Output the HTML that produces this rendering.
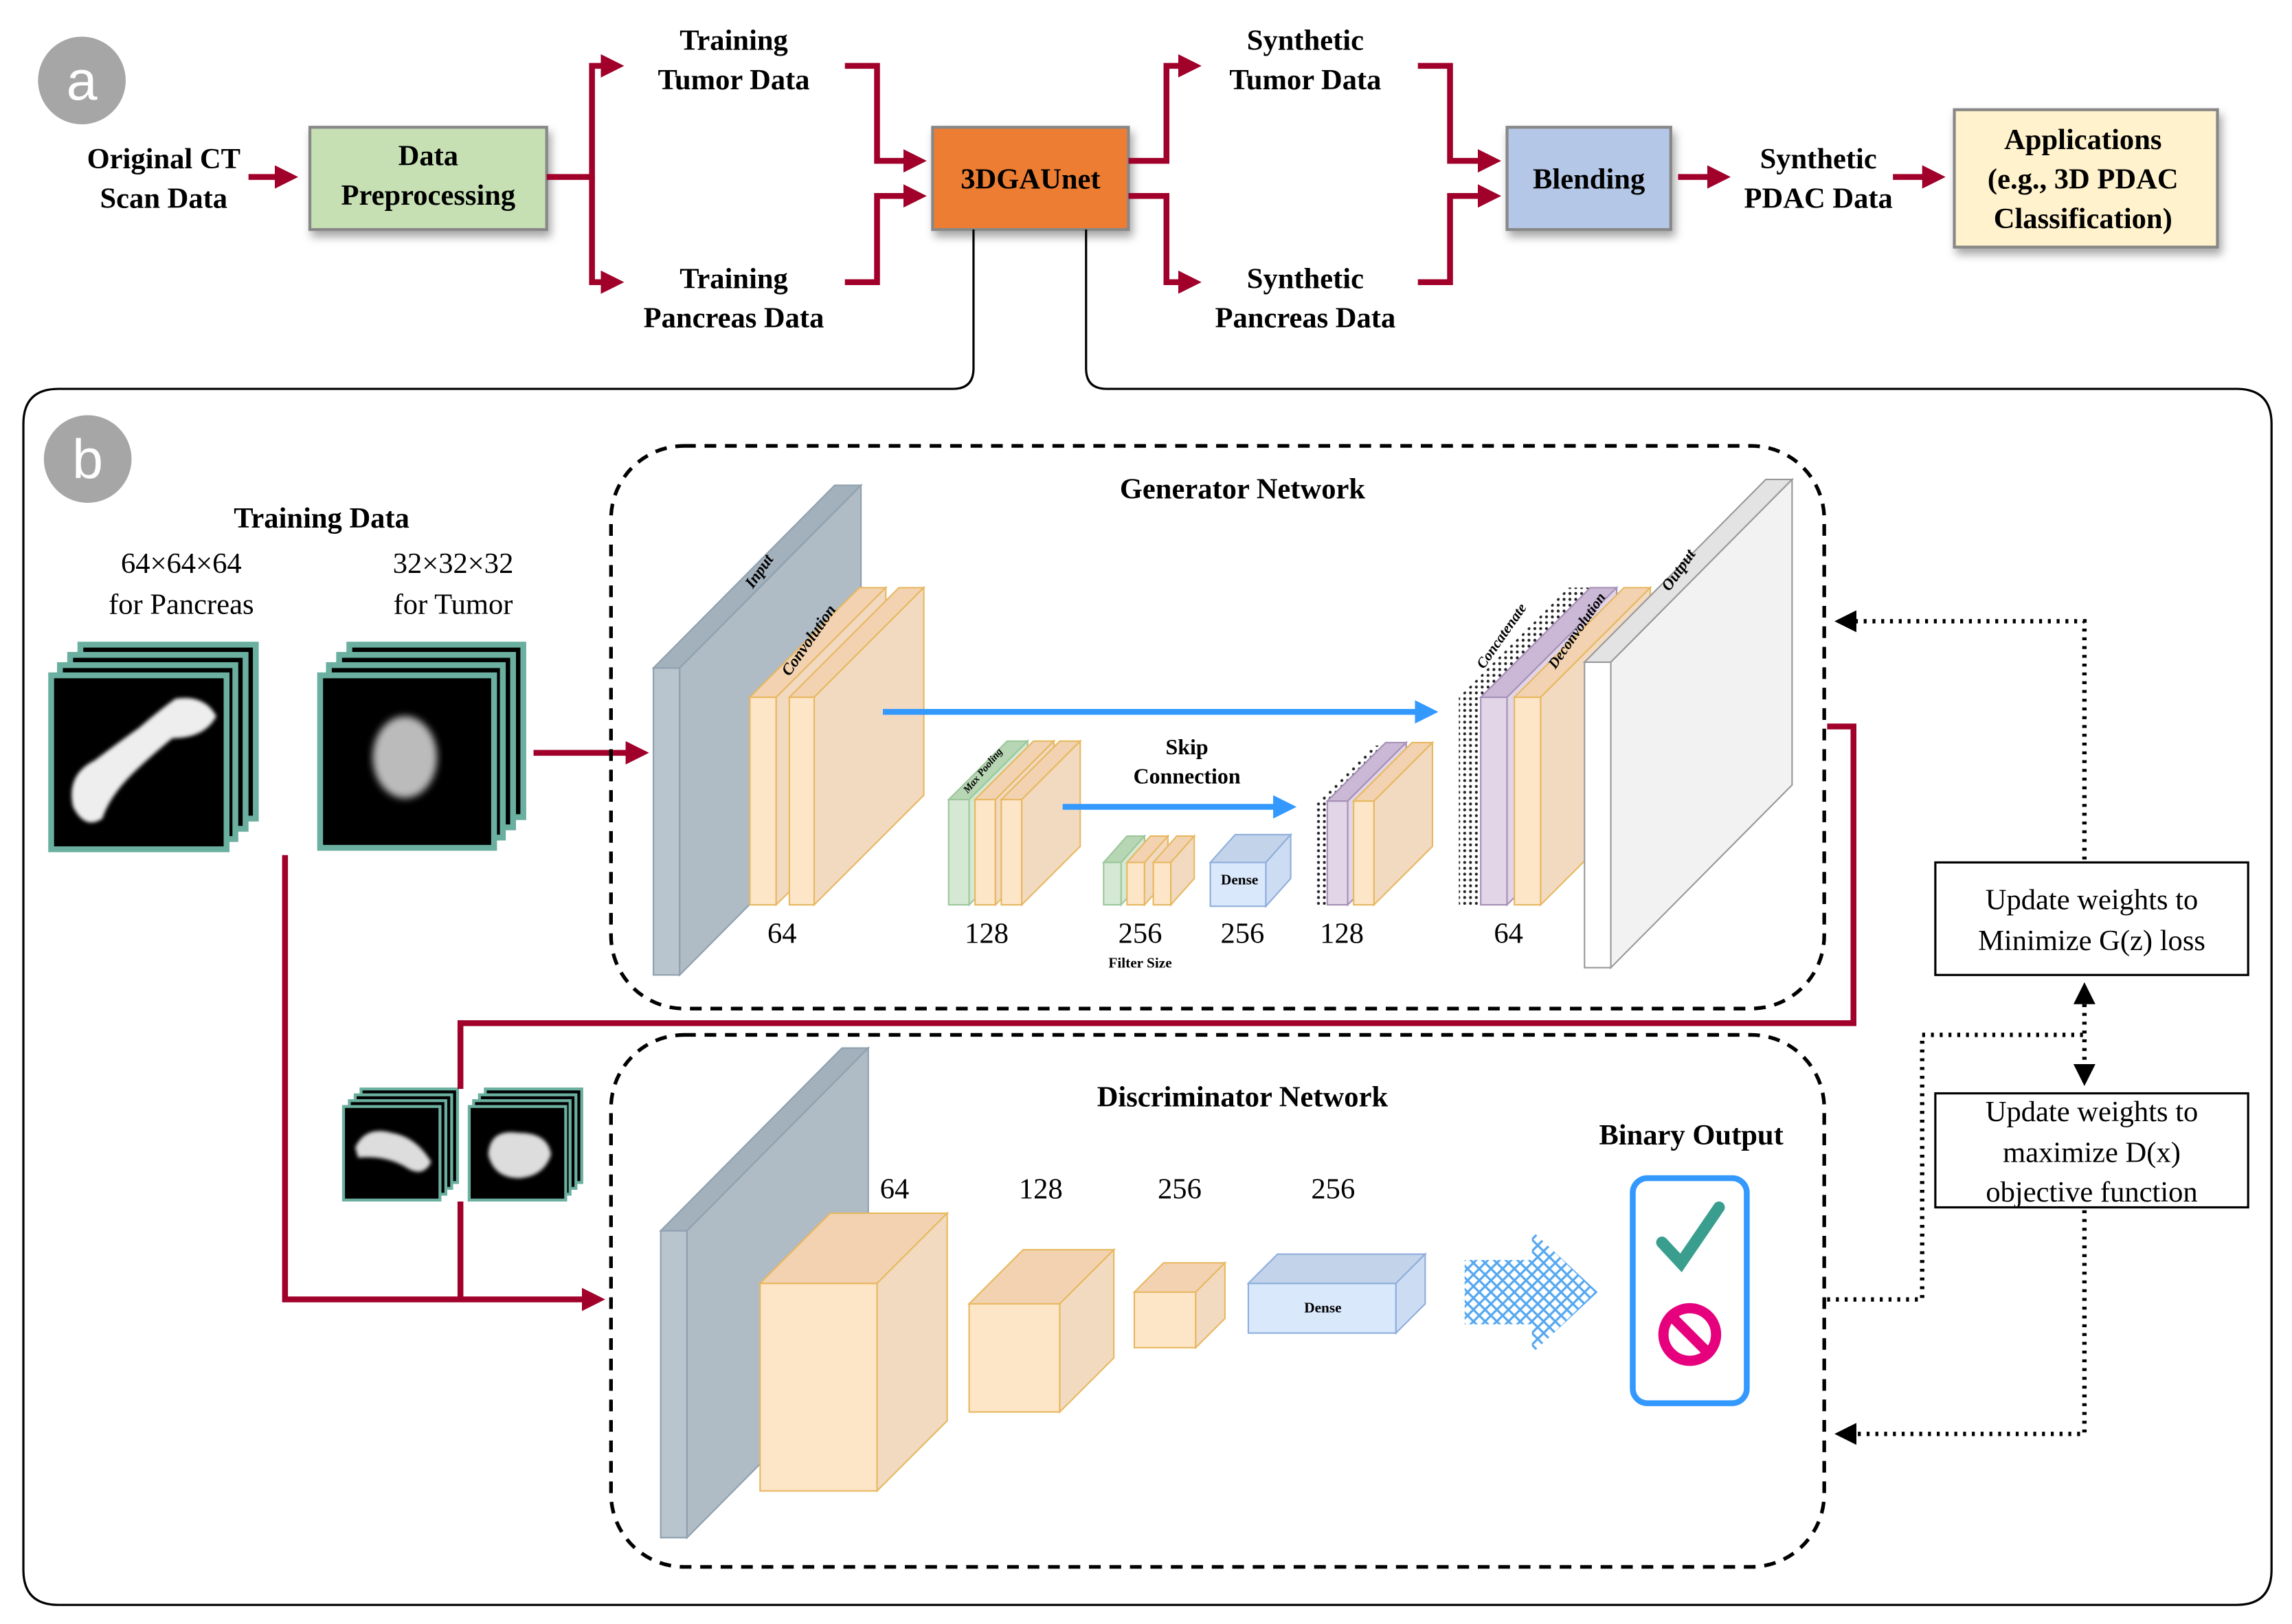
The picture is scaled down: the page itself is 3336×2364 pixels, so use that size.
<!DOCTYPE html>
<html><head><meta charset="utf-8"><style>html,body{margin:0;padding:0;background:#fff}svg{display:block}</style></head><body>
<svg width="3336" height="2364" viewBox="0 0 1568 1111" xmlns="http://www.w3.org/2000/svg" font-family="Liberation Serif, serif">
<defs>
<marker id="ra" markerWidth="4" markerHeight="4" refX="3" refY="2" orient="auto" markerUnits="strokeWidth"><path d="M0,0 L4,2 L0,4 z" fill="#a0002a"/></marker>
<marker id="ba" markerWidth="4" markerHeight="4" refX="3" refY="2" orient="auto" markerUnits="strokeWidth"><path d="M0,0 L4,2 L0,4 z" fill="#3399ff"/></marker>
<marker id="ka" markerWidth="5" markerHeight="5" refX="4" refY="2.5" orient="auto" markerUnits="strokeWidth"><path d="M0,0 L5,2.5 L0,5 z" fill="#000"/></marker>
<marker id="ks" markerWidth="5" markerHeight="5" refX="1" refY="2.5" orient="auto" markerUnits="strokeWidth"><path d="M5,0 L0,2.5 L5,5 z" fill="#000"/></marker>
<filter id="sh" x="-10%" y="-10%" width="130%" height="140%"><feDropShadow dx="2" dy="4" stdDeviation="3" flood-color="#000" flood-opacity="0.35"/></filter>
<filter id="bl"><feGaussianBlur stdDeviation="2.5"/></filter>
<filter id="bl2"><feGaussianBlur stdDeviation="1.2"/></filter>
<pattern id="dots" width="4" height="4" patternUnits="userSpaceOnUse"><circle cx="2" cy="2" r="1" fill="#222"/></pattern>
<pattern id="hatch" width="8" height="8" patternUnits="userSpaceOnUse"><path d="M0,0 L8,8 M8,0 L0,8" stroke="#55a8f0" stroke-width="1.5"/></pattern>
</defs>

<!-- Part a -->
<circle cx="56" cy="55" r="30" fill="#a6a6a6"/>
<text x="56" y="68" font-family="Liberation Sans, sans-serif" font-size="38" fill="#fff" text-anchor="middle">a</text>
<g font-weight="bold" font-size="20" text-anchor="middle">
<text x="112" y="115">Original CT</text><text x="112" y="142">Scan Data</text>
<text x="502" y="34">Training</text><text x="502" y="61">Tumor Data</text>
<text x="502" y="197">Training</text><text x="502" y="224">Pancreas Data</text>
<text x="893" y="34">Synthetic</text><text x="893" y="61">Tumor Data</text>
<text x="893" y="197">Synthetic</text><text x="893" y="224">Pancreas Data</text>
<text x="1244" y="115">Synthetic</text><text x="1244" y="142">PDAC Data</text>
</g>
<g filter="url(#sh)">
<rect x="212" y="87" width="162" height="70" fill="#c6e0b4" stroke="#888" stroke-width="2"/>
<rect x="638" y="87" width="134" height="70" fill="#ed7d31" stroke="#888" stroke-width="2"/>
<rect x="1031" y="87" width="112" height="70" fill="#b4c7e7" stroke="#888" stroke-width="2"/>
<rect x="1337" y="75" width="180" height="94" fill="#fff2cc" stroke="#888" stroke-width="2"/>
</g>
<g font-weight="bold" font-size="20" text-anchor="middle">
<text x="293" y="113">Data</text><text x="293" y="140">Preprocessing</text>
<text x="705" y="129">3DGAUnet</text>
<text x="1087" y="129">Blending</text>
<text x="1425" y="102">Applications</text><text x="1425" y="129">(e.g., 3D PDAC</text><text x="1425" y="156">Classification)</text>
</g>
<g stroke="#a0002a" stroke-width="4" fill="none" marker-end="url(#ra)">
<path d="M170,121 H200"/>
<path d="M374,121 H405 V45 H423"/>
<path d="M405,121 V193 H423"/>
<path d="M578,45 H600 V110 H630"/>
<path d="M578,193 H600 V134 H630"/>
<path d="M772,110 H798 V45 H818"/>
<path d="M772,134 H798 V193 H818"/>
<path d="M970,45 H992 V110 H1023"/>
<path d="M970,193 H992 V134 H1023"/>
<path d="M1148,121 H1180"/>
<path d="M1295,121 H1327"/>
</g>
<path d="M666,157 V252 Q666,266 652,266 H40 Q16,266 16,290 V1074 Q16,1098 40,1098 H1530 Q1554,1098 1554,1074 V290 Q1554,266 1530,266 H757 Q743,266 743,252 V157" fill="none" stroke="#000" stroke-width="1.5"/>

<!-- Part b -->
<circle cx="60" cy="314" r="30" fill="#a6a6a6"/>
<text x="60" y="327" font-family="Liberation Sans, sans-serif" font-size="38" fill="#fff" text-anchor="middle">b</text>
<text x="220" y="361" font-weight="bold" font-size="20" text-anchor="middle">Training Data</text>
<g font-size="20" text-anchor="middle">
<text x="124" y="392">64×64×64</text><text x="124" y="420">for Pancreas</text>
<text x="310" y="392">32×32×32</text><text x="310" y="420">for Tumor</text>
</g>
<!-- stacks -->
<g stroke="#6aaf9f" stroke-width="4" fill="#000">
<rect x="55" y="441" width="120" height="119"/><rect x="48" y="448" width="120" height="119"/><rect x="41" y="455" width="120" height="119"/><rect x="35" y="462" width="120" height="119"/>
<rect x="239" y="441" width="119" height="118"/><rect x="232" y="448" width="119" height="118"/><rect x="225" y="455" width="119" height="118"/><rect x="219" y="462" width="119" height="118"/>
<rect x="247" y="745" width="66" height="64" stroke-width="2"/><rect x="243" y="749" width="66" height="64" stroke-width="2"/><rect x="239" y="753" width="66" height="64" stroke-width="2"/><rect x="235" y="757" width="66" height="64" stroke-width="2"/>
<rect x="332" y="745" width="66" height="64" stroke-width="2"/><rect x="328" y="749" width="66" height="64" stroke-width="2"/><rect x="324" y="753" width="66" height="64" stroke-width="2"/><rect x="321" y="757" width="66" height="64" stroke-width="2"/>
</g>
<path d="M50,552 Q45,530 65,520 Q85,505 95,498 Q110,485 120,478 Q140,475 148,490 Q140,505 118,505 Q100,520 90,530 Q75,545 70,560 Q58,568 50,552z" fill="#eee" filter="url(#bl2)"/>
<ellipse cx="277" cy="518" rx="22" ry="28" fill="#bbb" filter="url(#bl)"/>
<path d="M243,785 Q250,770 268,775 Q285,778 295,795 Q290,805 280,800 Q265,790 245,792z" fill="#ddd" filter="url(#bl2)"/>
<path d="M334,790 Q335,772 355,775 Q375,775 377,790 Q372,805 355,806 Q338,806 334,790z" fill="#ddd" filter="url(#bl2)"/>

<!-- red connectors b -->
<g stroke="#a0002a" stroke-width="4" fill="none">
<path d="M365,515 H440" marker-end="url(#ra)"/>
<path d="M195,585 V889 H410" marker-end="url(#ra)"/>
<path d="M315,889 V822"/>
<path d="M315,745 V700 H1268 V497 H1250"/>
</g>

<!-- generator -->
<rect x="418" y="305" width="830" height="385" rx="50" fill="none" stroke="#000" stroke-width="2.5" stroke-dasharray="8,6"/>
<text x="850" y="341" font-weight="bold" font-size="20" text-anchor="middle">Generator Network</text>
<g stroke-width="1">
<g fill="#b8c4ce" stroke="#8fa0ae"><rect x="447" y="457" width="18" height="210"/><polygon points="447,457 571,332 589,332 465,457" fill="#a3b1bd"/><polygon points="465,457 589,332 589,542 465,667" fill="#afbcc6"/></g>
<g fill="#fde5c8" stroke="#e8b860">
<rect x="513" y="477" width="18" height="142"/><polygon points="513,477 588,402 606,402 531,477" fill="#f2d2b0"/><polygon points="531,477 606,402 606,544 531,619" fill="#f2dac0"/>
<rect x="540" y="477" width="17" height="142"/><polygon points="540,477 615,402 632,402 557,477" fill="#f2d2b0"/><polygon points="557,477 632,402 632,544 557,619" fill="#f2dac0"/>
</g>
<g fill="#d5e8d4" stroke="#9cc79a"><rect x="649" y="547" width="14" height="72"/><polygon points="649,547 689,507 703,507 663,547" fill="#b7d6b4"/><polygon points="663,547 703,507 703,579 663,619"/></g>
<g fill="#fde5c8" stroke="#e8b860">
<rect x="667" y="547" width="14" height="72"/><polygon points="667,547 707,507 721,507 681,547" fill="#f2d2b0"/><polygon points="681,547 721,507 721,579 681,619" fill="#f2dac0"/>
<rect x="685" y="547" width="14" height="72"/><polygon points="685,547 725,507 739,507 699,547" fill="#f2d2b0"/><polygon points="699,547 739,507 739,579 699,619" fill="#f2dac0"/>
</g>
<g fill="#d5e8d4" stroke="#9cc79a"><rect x="755" y="590" width="12" height="29"/><polygon points="755,590 771,572 783,572 767,590" fill="#b7d6b4"/><polygon points="767,590 783,572 783,601 767,619"/></g>
<g fill="#fde5c8" stroke="#e8b860">
<rect x="771" y="590" width="12" height="29"/><polygon points="771,590 787,572 799,572 783,590" fill="#f2d2b0"/><polygon points="783,590 799,572 799,601 783,619" fill="#f2dac0"/>
<rect x="789" y="590" width="12" height="29"/><polygon points="789,590 805,572 817,572 801,590" fill="#f2d2b0"/><polygon points="801,590 817,572 817,601 801,619" fill="#f2dac0"/>
</g>
<g fill="#dae8fc" stroke="#8faedc"><rect x="828" y="590" width="38" height="30"/><polygon points="828,590 845,571 883,571 866,590" fill="#c3d3ea"/><polygon points="866,590 883,571 883,601 866,620" fill="#ccdcf2"/></g>
<polygon points="900,550 940,510 948,510 948,579 908,619 900,619" fill="url(#dots)"/>
<g fill="#e1d5e7" stroke="#a690b6"><rect x="908" y="548" width="14" height="71"/><polygon points="908,548 948,508 962,508 922,548" fill="#cbb8d6"/><polygon points="922,548 962,508 962,579 922,619"/></g>
<g fill="#fde5c8" stroke="#e8b860"><rect x="926" y="548" width="14" height="71"/><polygon points="926,548 966,508 980,508 940,548" fill="#f2d2b0"/><polygon points="940,548 980,508 980,579 940,619" fill="#f2dac0"/></g>
<polygon points="998,477 1073,402 1090,402 1090,544 1015,619 998,619" fill="url(#dots)"/>
<g fill="#e1d5e7" stroke="#a690b6"><rect x="1013" y="477" width="18" height="142"/><polygon points="1013,477 1088,402 1106,402 1031,477" fill="#cbb8d6"/><polygon points="1031,477 1106,402 1106,544 1031,619"/></g>
<g fill="#fde5c8" stroke="#e8b860"><rect x="1036" y="477" width="18" height="142"/><polygon points="1036,477 1111,402 1129,402 1054,477" fill="#f2d2b0"/><polygon points="1054,477 1129,402 1129,544 1054,619" fill="#f2dac0"/></g>
<g fill="#fff" stroke="#999"><rect x="1084" y="453" width="18" height="209"/><polygon points="1084,453 1208,328 1226,328 1102,453" fill="#e3e3e3"/><polygon points="1102,453 1226,328 1226,537 1102,662" fill="#f2f2f2"/></g>
</g>
<g font-weight="bold" font-style="italic">
<text transform="translate(515,403) rotate(-55)" font-size="11">Input</text>
<text transform="translate(540,463) rotate(-55)" font-size="11">Convolution</text>
<text transform="translate(662,543) rotate(-50)" font-size="7">Max Pooling</text>
<text transform="translate(1015,458) rotate(-55)" font-size="10">Concatenate</text>
<text transform="translate(1064,458) rotate(-55)" font-size="10">Deconvolution</text>
<text transform="translate(1142,405) rotate(-55)" font-size="11">Output</text>
<text transform="translate(512,796) rotate(-55)" font-size="11">Input</text>
<text transform="translate(563,876) rotate(-45)" font-size="11">Convolution</text>
</g>
<g stroke="#3399ff" stroke-width="4" fill="none" marker-end="url(#ba)">
<path d="M604,487 H980"/><path d="M727,552 H883"/>
</g>
<g font-weight="bold" font-size="15" text-anchor="middle"><text x="812" y="516">Skip</text><text x="812" y="536">Connection</text></g>
<g font-size="20" text-anchor="middle">
<text x="535" y="645">64</text><text x="675" y="645">128</text><text x="780" y="645">256</text><text x="850" y="645">256</text><text x="918" y="645">128</text><text x="1032" y="645">64</text>
<text x="612" y="820">64</text><text x="712" y="820">128</text><text x="807" y="820">256</text><text x="912" y="820">256</text>
</g>
<text x="780" y="662" font-weight="bold" font-size="10" text-anchor="middle">Filter Size</text>
<text x="848" y="605" font-weight="bold" font-size="10" text-anchor="middle">Dense</text>

<!-- discriminator -->
<rect x="418" y="708" width="830" height="364" rx="50" fill="none" stroke="#000" stroke-width="2.5" stroke-dasharray="8,6"/>
<text x="850" y="757" font-weight="bold" font-size="20" text-anchor="middle">Discriminator Network</text>
<g stroke-width="1">
<g fill="#b8c4ce" stroke="#8fa0ae"><rect x="452" y="842" width="18" height="210"/><polygon points="452,842 576,717 594,717 470,842" fill="#a3b1bd"/><polygon points="470,842 594,717 594,927 470,1052" fill="#afbcc6"/></g>
<g fill="#fde5c8" stroke="#e8b860">
<rect x="520" y="878" width="80" height="142"/><polygon points="520,878 568,830 648,830 600,878" fill="#f2d2b0"/><polygon points="600,878 648,830 648,972 600,1020" fill="#f2dac0"/>
<rect x="663" y="892" width="62" height="74"/><polygon points="663,892 700,855 762,855 725,892" fill="#f2d2b0"/><polygon points="725,892 762,855 762,929 725,966" fill="#f2dac0"/>
<rect x="776" y="884" width="42" height="38"/><polygon points="776,884 796,864 838,864 818,884" fill="#f2d2b0"/><polygon points="818,884 838,864 838,902 818,922" fill="#f2dac0"/>
</g>
<g fill="#dae8fc" stroke="#8faedc"><rect x="854" y="878" width="101" height="34"/><polygon points="854,878 874,858 975,858 955,878" fill="#c3d3ea"/><polygon points="955,878 975,858 975,892 955,912" fill="#ccdcf2"/></g>
</g>
<text x="905" y="898" font-weight="bold" font-size="10" text-anchor="middle">Dense</text>
<polygon points="1002,862 1048,862 1048,842 1093,884 1048,926 1048,906 1002,906" fill="url(#hatch)"/>
<text x="1157" y="783" font-weight="bold" font-size="20" text-anchor="middle">Binary Output</text>
<rect x="1117" y="806" width="78" height="154" rx="10" fill="#fff" stroke="#3399ff" stroke-width="4"/>
<path d="M1137,850 L1150,864 L1176,826" fill="none" stroke="#3a9e8e" stroke-width="8" stroke-linecap="round"/>
<circle cx="1156" cy="913" r="18" fill="none" stroke="#e6007e" stroke-width="7"/>
<path d="M1143,900 L1169,926" stroke="#e6007e" stroke-width="7"/>

<!-- right side -->
<rect x="1324" y="590" width="214" height="77" fill="#fff" stroke="#000" stroke-width="1.5"/>
<rect x="1324" y="748" width="214" height="78" fill="#fff" stroke="#000" stroke-width="1.5"/>
<g font-size="20" text-anchor="middle">
<text x="1431" y="622">Update weights to</text><text x="1431" y="650">Minimize G(z) loss</text>
<text x="1431" y="767">Update weights to</text><text x="1431" y="795">maximize D(x)</text><text x="1431" y="822">objective function</text>
</g>
<g stroke="#000" stroke-width="3" fill="none" stroke-dasharray="2,4">
<path d="M1426,588 V425 H1258" marker-end="url(#ka)"/>
<path d="M1426,828 V981 H1258" marker-end="url(#ka)"/>
<path d="M1426,675 V740" marker-start="url(#ks)" marker-end="url(#ka)"/>
<path d="M1250,889 H1315 V708 H1426"/>
</g>
</svg>
</body></html>
